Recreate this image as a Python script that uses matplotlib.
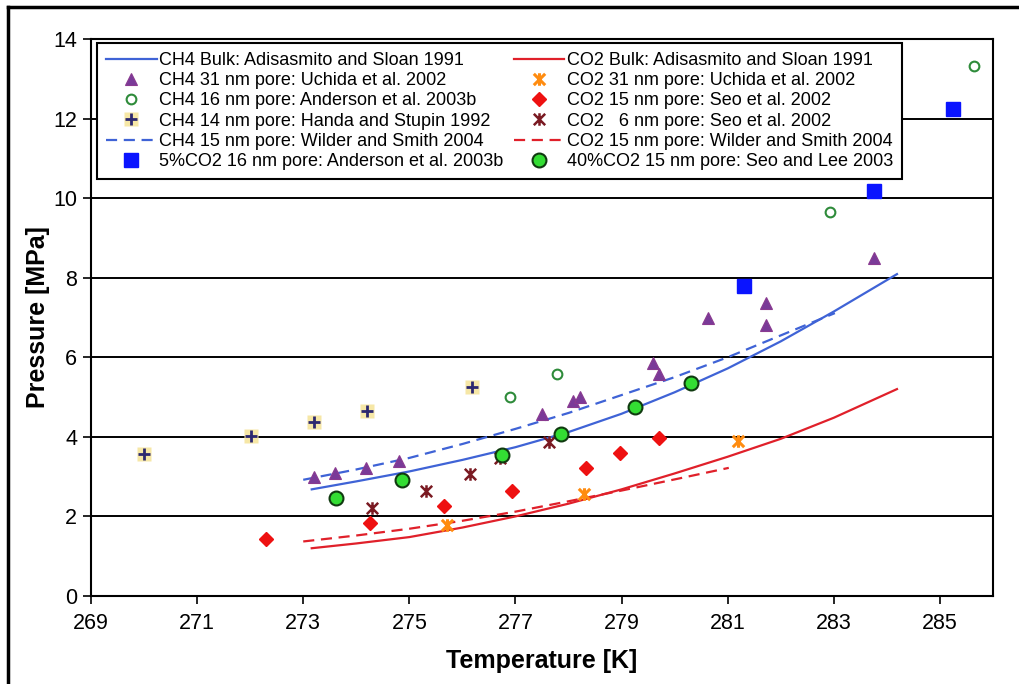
import matplotlib
matplotlib.use('Agg')
import matplotlib.pyplot as plt
from matplotlib.path import Path
from matplotlib.lines import Line2D
from matplotlib.legend_handler import HandlerTuple

plt.rcParams['font.family'] = ['Liberation Sans', 'DejaVu Sans']

# ---------------- data ----------------
ch4_bulk_T = [273.16, 274.0, 275.0, 276.0, 277.0, 278.0, 279.0, 280.0, 281.0, 282.0, 283.0, 284.19]
ch4_bulk_P = [2.68, 2.88, 3.13, 3.42, 3.74, 4.12, 4.58, 5.12, 5.72, 6.40, 7.15, 8.09]

co2_bulk_T = [273.16, 274.0, 275.0, 276.0, 277.0, 278.0, 279.0, 280.0, 281.0, 282.0, 283.0, 284.19]
co2_bulk_P = [1.20, 1.32, 1.48, 1.72, 2.00, 2.32, 2.68, 3.08, 3.50, 3.95, 4.48, 5.20]

ch4_wilder_T = [273.0, 274.0, 275.0, 276.0, 277.0, 278.0, 279.0, 280.0, 281.0, 282.0, 283.02]
ch4_wilder_P = [2.92, 3.18, 3.47, 3.82, 4.20, 4.60, 5.05, 5.50, 6.00, 6.55, 7.11]

co2_wilder_T = [273.0, 274.0, 275.0, 276.0, 277.0, 278.0, 279.0, 280.0, 281.02]
co2_wilder_P = [1.37, 1.52, 1.69, 1.89, 2.12, 2.38, 2.65, 2.93, 3.22]

ch4_uchida_T = [273.2, 273.6, 274.19, 274.8, 277.5, 278.09, 278.21, 279.59, 279.7, 280.62, 281.72, 281.72, 283.75]
ch4_uchida_P = [2.99, 3.09, 3.21, 3.40, 4.57, 4.91, 5.01, 5.86, 5.58, 6.98, 7.36, 6.82, 8.49]

ch4_anderson_T = [276.89, 277.79, 282.93, 285.64]
ch4_anderson_P = [5.01, 5.58, 9.65, 13.31]

ch4_handa_T = [270.0, 272.01, 273.2, 274.2, 276.19]
ch4_handa_P = [3.57, 4.03, 4.38, 4.65, 5.25]

co2_5_T = [281.31, 283.75, 285.24]
co2_5_P = [7.80, 10.17, 12.25]

co2_uchida_T = [275.71, 278.29, 281.2]
co2_uchida_P = [1.79, 2.57, 3.90]

co2_seo15_T = [272.3, 274.25, 275.65, 276.94, 278.33, 278.97, 279.7]
co2_seo15_P = [1.43, 1.84, 2.27, 2.65, 3.21, 3.59, 3.97]

co2_seo6_T = [274.3, 275.31, 276.15, 276.7, 277.64]
co2_seo6_P = [2.20, 2.65, 3.06, 3.46, 3.87]

co2_40_T = [273.61, 274.87, 276.75, 277.85, 279.25, 280.31]
co2_40_P = [2.46, 2.92, 3.55, 4.07, 4.76, 5.36]

x_ticks = [269, 271, 273, 275, 277, 279, 281, 283, 285]
y_ticks = [0, 2, 4, 6, 8, 10, 12, 14]

labels_col1 = ["CH4 Bulk: Adisasmito and Sloan 1991",
               "CH4 31 nm pore: Uchida et al. 2002",
               "CH4 16 nm pore: Anderson et al. 2003b",
               "CH4 14 nm pore: Handa and Stupin 1992",
               "CH4 15 nm pore: Wilder and Smith 2004",
               "5%CO2 16 nm pore: Anderson et al. 2003b"]
labels_col2 = ["CO2 Bulk: Adisasmito and Sloan 1991",
               "CO2 31 nm pore: Uchida et al. 2002",
               "CO2 15 nm pore: Seo et al. 2002",
               "CO2   6 nm pore: Seo et al. 2002",
               "CO2 15 nm pore: Wilder and Smith 2004",
               "40%CO2 15 nm pore: Seo and Lee 2003"]

# ---------------- figure ----------------
fig = plt.figure(figsize=(10.19, 6.84), dpi=100)
ax = fig.add_axes([0.0893, 0.1287, 0.9745 - 0.0893, 0.943 - 0.1287])

star = Path([(-1, -1), (1, 1), (-1, 1), (1, -1), (0, -1.1), (0, 1.1)],
            [Path.MOVETO, Path.LINETO] * 3)

blue = '#3f63d6'
red = '#e0202a'

h_ch4b, = ax.plot(ch4_bulk_T, ch4_bulk_P, '-', color=blue, lw=1.6, zorder=2)
h_co2b, = ax.plot(co2_bulk_T, co2_bulk_P, '-', color=red, lw=1.6, zorder=2)
h_ch4w, = ax.plot(ch4_wilder_T, ch4_wilder_P, '--', color=blue, lw=1.6, dashes=(5, 3), zorder=2)
h_co2w, = ax.plot(co2_wilder_T, co2_wilder_P, '--', color=red, lw=1.6, dashes=(5, 3), zorder=2)

h_uch, = ax.plot(ch4_uchida_T, ch4_uchida_P, '^', ls='none', ms=9, mfc='#7a3a98', mec='#8a3a90', mew=0.8, zorder=3)
h_and, = ax.plot(ch4_anderson_T, ch4_anderson_P, 'o', ls='none', ms=7, mfc='white', mec='#2e8b3a', mew=1.5, zorder=3)
h_hsq, = ax.plot(ch4_handa_T, ch4_handa_P, 's', ls='none', ms=10, mfc='#f6e7a6', mec='none', zorder=3)
h_hpl, = ax.plot(ch4_handa_T, ch4_handa_P, '+', ls='none', ms=9, mew=2, color='#2c2870', zorder=4)
h_c5, = ax.plot(co2_5_T, co2_5_P, 's', ls='none', ms=10, mfc='#0a14ff', mec='#0a14ff', zorder=3)

h_cu, = ax.plot(co2_uchida_T, co2_uchida_P, marker=star, ls='none', ms=9, mew=2.2, color='#ff8c10', zorder=3)
h_s15, = ax.plot(co2_seo15_T, co2_seo15_P, 'D', ls='none', ms=7, mfc='#ee1111', mec='#ee1111', zorder=3)
h_s6, = ax.plot(co2_seo6_T, co2_seo6_P, marker=star, ls='none', ms=9, mew=1.8, color='#7a1a22', zorder=3)
h_c40, = ax.plot(co2_40_T, co2_40_P, 'o', ls='none', ms=10, mfc='#33dd33', mec='#103a10', mew=1.5, zorder=5)

ax.set_xlim(269, 286)
ax.set_ylim(0, 14)
ax.set_xticks(x_ticks)
ax.set_yticks(y_ticks)
ax.tick_params(direction='out', length=6, width=1.2, labelsize=15.5, pad=4)
ax.tick_params(axis='x', pad=6)
ax.yaxis.grid(True, color='black', lw=1.4)
ax.set_axisbelow(True)
for s in ax.spines.values():
    s.set_linewidth(1.5)

ax.set_xlabel('Temperature [K]', fontsize=18, fontweight='bold', labelpad=11)
ax.set_ylabel('Pressure [MPa]', fontsize=18, fontweight='bold', labelpad=2.5)

handles = [h_ch4b, h_uch, h_and, (h_hsq, h_hpl), h_ch4w, h_c5,
           h_co2b, h_cu, h_s15, h_s6, h_co2w, h_c40]
leg = ax.legend(handles, labels_col1 + labels_col2, ncol=2, loc='upper left',
                bbox_to_anchor=(0.0067, 0.993), borderaxespad=0, fontsize=13,
                frameon=True, fancybox=False, framealpha=1, edgecolor='black',
                handlelength=2.8, handletextpad=0.15, columnspacing=0.55,
                labelspacing=0.18, borderpad=0.5, numpoints=1,
                handler_map={tuple: HandlerTuple(ndivide=1)})
leg.get_frame().set_linewidth(1.5)
leg.set_zorder(10)

# outer frame lines (left and top)
fig.add_artist(Line2D([8 / 1019, 8 / 1019], [0, 1 - 7 / 684], color='black', lw=2.5, transform=fig.transFigure))
fig.add_artist(Line2D([8 / 1019, 1], [1 - 7 / 684, 1 - 7 / 684], color='black', lw=2.5, transform=fig.transFigure))

fig.savefig('out.png', dpi=100)
